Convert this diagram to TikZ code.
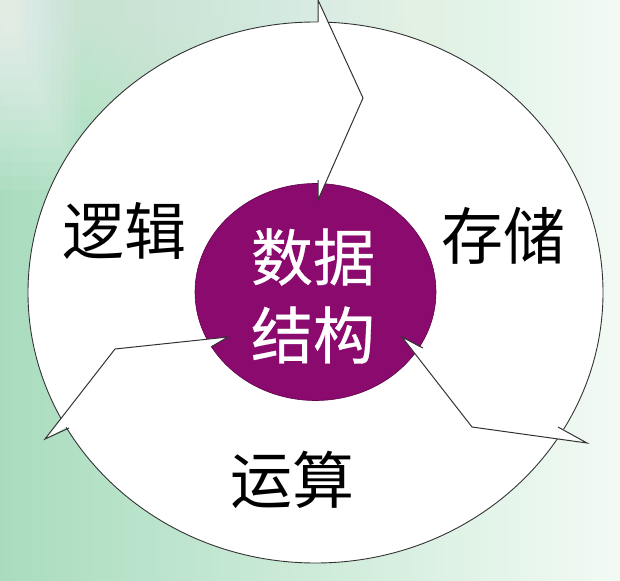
\documentclass[tikz,border=0pt]{standalone}
\usepackage{fontspec}
\newfontfamily\cjk{Noto Sans CJK SC}
\newfontfamily\cjkbold[FakeBold=0.5]{Noto Sans CJK SC}
\definecolor{bgGreen}{HTML}{A9DCBF}
\definecolor{bgMid}{HTML}{CDEBD8}
\definecolor{bgPale}{HTML}{F3FAF5}
\definecolor{plum}{HTML}{8B0A6E}
\definecolor{plumEdge}{HTML}{5E0549}
\definecolor{lineGray}{HTML}{333333}
\tikzset{
  ringline/.style={draw=lineGray, line width=0.9pt},
  chevline/.style={draw=lineGray, line width=1pt, line join=miter},
  blacklabel/.style={font=\cjk\fontsize{62}{62}\selectfont, text=black, inner sep=0pt},
  whitelabel/.style={font=\cjkbold\fontsize{62}{62}\selectfont, text=white, inner sep=0pt}
}
\begin{document}
\begin{tikzpicture}[x=1pt, y=-1pt]
\useasboundingbox (0,0) rectangle (620,580);
% background
\shade[left color=bgGreen, right color=bgPale, middle color=bgMid] (0,0) rectangle (620,580);
\foreach \i in {0,...,11}{
  \fill[white, opacity=0.07] (0,0) rectangle ({80-6*\i},{190-14*\i});
}
\foreach \i in {0,...,9}{
  \fill[white, opacity=0.035] (0,0) rectangle (620,{130-12*\i});
}
% rings
\path[fill=white, ringline] (315.5,292.5) ellipse [x radius=287.5, y radius=270.5];
\path[fill=plum, draw=plumEdge, line width=0.6pt] (315.5,292) ellipse [x radius=120.5, y radius=108.5];
% chevron points: top
\coordinate (tO) at (318,0);
\coordinate (tOb) at (318,22);
\coordinate (tT) at (363,98);
\coordinate (tI) at (318,200);
\coordinate (tIb) at (318,180);
% lower right
\coordinate (rO) at (587,443);
\coordinate (rOb) at (558,427);
\coordinate (rT) at (472,427);
\coordinate (rI) at (402,337);
\coordinate (rIb) at (423,348);
% lower left
\coordinate (lO) at (45,439);
\coordinate (lOb) at (69,428);
\coordinate (lT) at (115,349);
\coordinate (lI) at (228,337);
\coordinate (lIb) at (211,347);
\foreach \p in {t,r,l}{
  \fill[white] (\p O) -- (\p T) -- (\p I) -- cycle;
  \draw[chevline] (\p Ob) -- (\p O) -- (\p T) -- (\p I) -- (\p Ib);
}
% labels
\node[blacklabel] (logic) at (124,231) {逻辑};
\node[blacklabel] (storage) at (503,236) {存储};
\node[blacklabel] (ops) at (292,480) {运算};
\node[whitelabel] (ds1) at (313,257) {数据};
\node[whitelabel] (ds2) at (313,335) {结构};
\end{tikzpicture}
\end{document}
